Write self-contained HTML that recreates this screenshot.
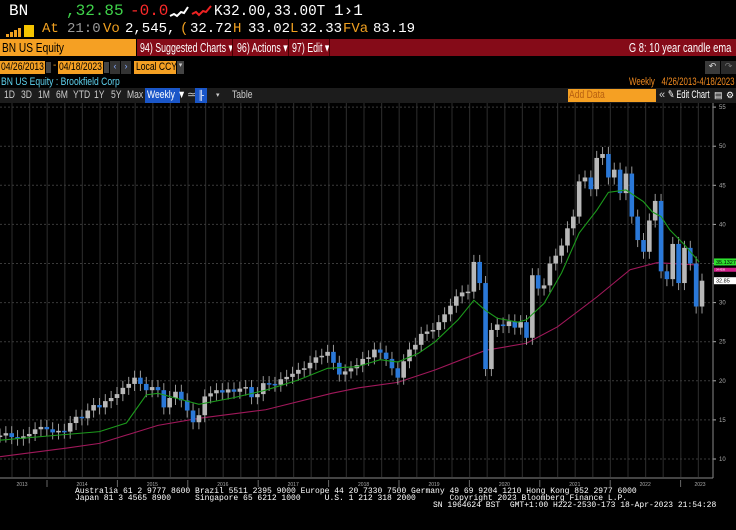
<!DOCTYPE html>
<html><head><meta charset="utf-8"><style>
*{margin:0;padding:0;box-sizing:border-box}
body{width:736px;height:530px;background:#000;overflow:hidden;font-family:"Liberation Sans",sans-serif;position:relative}
.a{position:absolute;white-space:nowrap}
.m{font-family:"Liberation Mono",monospace}
.n{transform:scaleX(.78);transform-origin:left center;display:inline-block}
.k{transform:scaleX(.68);transform-origin:left center;display:inline-block}
.r{transform:scaleX(.72);transform-origin:right center;display:inline-block}
</style></head><body>
<div class="a m" style="left:9px;top:2px;font-size:16px;color:#fff">BN</div>
<div class="a m" style="left:66px;top:2px;font-size:16px;color:#3fd24a">,32.85</div>
<div class="a m" style="left:130px;top:2px;font-size:16px;color:#ff2a2a">-0.0</div>
<svg class="a" style="left:168px;top:4px" width="44" height="16"><polyline points="2,12 6,10 9,12 13,8 16,9 20,3" stroke="#fff" stroke-width="2" fill="none"/><polyline points="24,10 28,8 31,11 35,7 38,8 43,2" stroke="#e22" stroke-width="2" fill="none"/></svg>
<div class="a m" style="left:214px;top:3px;font-size:15px;color:#fff;transform:scaleX(.95);transform-origin:left">K32.00,33.00T</div>
<div class="a m" style="left:334px;top:2px;font-size:16px;color:#fff">1›1</div>
<svg class="a" style="left:6px;top:25px" width="28" height="12"><rect x="0" y="9" width="3" height="3" fill="#f0a020"/><rect x="4" y="7" width="3" height="5" fill="#f0a020"/><rect x="8" y="5" width="3" height="7" fill="#f0a020"/><rect x="12" y="3" width="3" height="9" fill="#f0a020"/><rect x="18" y="0" width="10" height="12" fill="#f5c400"/></svg>
<div class="a m" style="left:0;top:21px;font-size:14px;color:#fff;width:420px;height:17px">
<span class="a" style="left:42px;color:#f0a020">At</span><span class="a" style="left:67px;color:#999">21:0</span><span class="a" style="left:103px;color:#f0a020">Vo</span><span class="a" style="left:125px">2,545,</span><span class="a" style="left:180px;color:#f0a020">(</span><span class="a" style="left:190px">32.72</span><span class="a" style="left:233px;color:#f0a020">H</span><span class="a" style="left:248px">33.02</span><span class="a" style="left:290px;color:#f0a020">L</span><span class="a" style="left:300px">32.33</span><span class="a" style="left:343px;color:#f0a020">FVa</span><span class="a" style="left:373px">83.19</span></div>
<div class="a" style="left:0;top:39px;width:136px;height:17px;background:#f5a023;color:#000;font-size:13px;padding:1px 2px"><span class="n">BN US Equity</span></div>
<div class="a" style="left:137px;top:39px;width:599px;height:17px;background:#850b18;color:#fff;font-size:13px">
<span class="a" style="left:3px;top:1px"><span class="k">94) Suggested Charts ▾</span></span>
<span class="a" style="left:95px;top:0;width:1px;height:17px;background:#400"></span>
<span class="a" style="left:100px;top:1px"><span class="k">96) Actions ▾</span></span>
<span class="a" style="left:151px;top:0;width:1px;height:17px;background:#400"></span>
<span class="a" style="left:155px;top:1px"><span class="k">97) Edit ▾</span></span>
<span class="a" style="left:192px;top:0;width:1px;height:17px;background:#400"></span>
<span class="a" style="right:5px;top:1px"><span class="r">G 8: 10 year candle ema</span></span></div>
<div class="a" style="left:0;top:61px;width:45px;height:13px;background:#f5a023;color:#000;font-size:11px;padding:0 1px;line-height:13px"><span class="n">04/26/2013</span></div>
<div class="a" style="left:46px;top:62px;width:5px;height:11px;background:#444"></div>
<div class="a" style="left:53px;top:60px;color:#f5a023;font-size:10px">-</div>
<div class="a" style="left:58px;top:61px;width:45px;height:13px;background:#f5a023;color:#000;font-size:11px;padding:0 1px;line-height:13px"><span class="n">04/18/2023</span></div>
<div class="a" style="left:104px;top:62px;width:5px;height:11px;background:#444"></div>
<div class="a" style="left:110px;top:61px;width:10px;height:13px;background:#333;color:#8af;font-size:9px;text-align:center">‹</div>
<div class="a" style="left:121px;top:61px;width:10px;height:13px;background:#333;color:#8af;font-size:9px;text-align:center">›</div>
<div class="a" style="left:134px;top:61px;width:42px;height:13px;background:#f5a023;color:#000;font-size:11px;padding:0 2px;line-height:13px"><span class="n">Local CCY</span></div>
<div class="a" style="left:177px;top:61px;width:7px;height:13px;background:#444;color:#ccc;font-size:7px;text-align:center">▾</div>
<div class="a" style="left:705px;top:61px;width:15px;height:13px;background:#3a3a3a;color:#ddd;font-size:9px;text-align:center">↶</div>
<div class="a" style="left:721px;top:61px;width:15px;height:13px;background:#2a2a2a;color:#777;font-size:9px;text-align:center">↷</div>
<div class="a" style="left:1px;top:76px;font-size:11px;color:#5fd3f0"><span class="n">BN US Equity : Brookfield Corp</span></div>
<div class="a" style="right:1px;top:76px;font-size:11px;color:#f08a20"><span class="r">Weekly &nbsp; 4/26/2013-4/18/2023</span></div>
<div class="a" style="left:0;top:88px;width:736px;height:15px;background:#1c1c1c;font-size:11px;color:#ccc;line-height:15px">
<span class="a" style="left:4px"><span class="n">1D</span></span><span class="a" style="left:21px"><span class="n">3D</span></span><span class="a" style="left:38px"><span class="n">1M</span></span><span class="a" style="left:56px"><span class="n">6M</span></span><span class="a" style="left:73px"><span class="n">YTD</span></span><span class="a" style="left:94px"><span class="n">1Y</span></span><span class="a" style="left:111px"><span class="n">5Y</span></span><span class="a" style="left:127px"><span class="n">Max</span></span>
<span class="a" style="left:145px;width:35px;background:#1a56c8;color:#fff;padding-left:2px"><span class="n">Weekly ▼</span></span>
<span class="a" style="left:187px">≃</span><span class="a" style="left:195px;width:12px;background:#1a56c8;color:#fff;text-align:center;font-size:9px">╟</span><span class="a" style="left:216px;font-size:7px">▾</span>
<span class="a" style="left:232px"><span class="n">Table</span></span>
<span class="a" style="left:568px;top:1px;width:88px;height:13px;background:#f5a023;color:#b86010;line-height:13px;padding-left:1px"><span class="n">Add Data</span></span>
<span class="a" style="left:659px;color:#ccc">«</span>
<span class="a" style="left:668px;color:#fff"><span class="k">✎ Edit Chart</span></span>
<span class="a" style="left:714px;color:#fff;font-size:9px">▤</span><span class="a" style="left:726px;color:#fff;font-size:9px">⚙</span></div>
<svg id="chart" class="a" style="left:0;top:103px" width="736" height="385"></svg>
<div class="a m" style="left:75px;top:488px;font-size:8px;line-height:7px;color:#fff">Australia 61 2 9777 8600 Brazil 5511 2395 9000 Europe 44 20 7330 7500 Germany 49 69 9204 1210 Hong Kong 852 2977 6000<br>Japan 81 3 4565 8900 &nbsp; &nbsp; Singapore 65 6212 1000 &nbsp; &nbsp; U.S. 1 212 318 2000 &nbsp; &nbsp; &nbsp; Copyright 2023 Bloomberg Finance L.P.<br><span style="padding-left:358px">SN 1964624 BST &nbsp;GMT+1:00 H222-2530-173 18-Apr-2023 21:54:28</span></div>
<script>
const closes=[13.0,13.3,12.8,12.6,12.9,13.2,13.8,14.1,13.8,13.4,13.6,13.5,14.6,15.4,15.2,16.2,16.9,16.6,17.4,17.8,18.3,19.1,19.6,20.4,19.6,18.8,19.2,18.8,16.6,17.8,18.6,17.5,16.2,14.7,15.6,18.0,18.4,18.8,18.5,18.9,18.6,19.0,19.2,17.9,18.3,19.7,19.6,19.5,20.2,20.5,20.9,21.4,21.6,22.3,23.0,23.2,23.7,22.3,20.8,21.2,21.6,22.0,22.8,23.0,24.0,23.6,22.8,21.6,20.4,22.5,24.0,24.6,26.0,26.3,26.5,27.5,28.5,29.6,30.8,31.3,31.4,35.2,32.5,21.5,26.5,27.2,27.0,27.6,26.8,27.5,25.5,33.5,31.8,32.2,35.0,36.0,37.3,39.5,41.0,45.5,46.0,44.5,48.5,49.0,46.0,47.0,44.0,46.5,41.0,38.0,36.5,40.5,43.0,34.0,33.0,37.5,32.5,37.0,35.0,29.5,32.8];
const greenMonths=[0,10.7,17,21.6,25,27,31.5,34,39.7,45.4,51,56,61,65,68,71.5,74.4,78.3,81,83,85,88.5,90,93,96,99,102,104,107,110,111.5,113,114.5,117,119.5];
const greenEma=[12.4,13.1,13.5,14.6,18.2,18.4,17.5,17.0,17.8,18.8,20.1,21.6,21.8,22.7,22.4,23.5,25.0,27.8,30.3,29.0,28.0,27.5,27.8,29.9,33.8,38.9,41.8,44.1,44.4,42.9,41.6,41.0,39.3,37.4,35.2];
const purpleMonths=[0,11.4,17,27,34,45.4,56.7,61.3,68,74.4,83,90,95.3,102,107.7,112.3,119.5];
const purpleEma=[10.3,11.4,12.0,14.3,15.2,16.3,18.4,19.1,19.8,21.4,23.9,24.8,26.9,30.7,34.2,35.1,34.8];
const yTicks=[10,15,20,25,30,35,40,45,50,55];
const yearLabels=["2013","2014","2015","2016","2017","2018","2019","2020","2021","2022","2023"];
const NS="http://www.w3.org/2000/svg",svg=document.getElementById('chart');
const x=m=>m*5.85;
const y=v=>356-(v-10)*7.82;
const yr=i=>47+(i-1)*70.4;
function mk(t,a){const e=document.createElementNS(NS,t);for(const k in a)e.setAttribute(k,a[k]);svg.appendChild(e);return e;}
for(let gx=12;gx<713;gx+=17.6){const g=mk('line',{x1:gx,x2:gx,y1:0,y2:374,stroke:'#262626','stroke-width':1.2});}
yTicks.forEach(t=>{const g=mk('line',{x1:0,x2:713,y1:y(t),y2:y(t),stroke:'#3a3a3a','stroke-dasharray':'2,2'});
const tk=mk('line',{x1:713,x2:716,y1:y(t),y2:y(t),stroke:'#aaa'});
const l=mk('text',{x:719,y:y(t)+2,fill:'#aaa','font-size':6,'font-family':'Liberation Sans'});l.textContent=t;});
const ax=mk('line',{x1:713,x2:713,y1:0,y2:375,stroke:'#888'});
const bx=mk('line',{x1:0,x2:713,y1:375,y2:375,stroke:'#888'});
yearLabels.forEach((s,i)=>{const cx=i==0?22:Math.min(yr(i)+35,700);
const l=mk('text',{x:cx,y:383,fill:'#aaa','font-size':5,'text-anchor':'middle','font-family':'Liberation Sans'});l.textContent=s;
if(i>0){const t=mk('line',{x1:yr(i),x2:yr(i),y1:377,y2:384,stroke:'#666'});}});
function line(ms,vs,c,n){const p=mk('polyline',{points:ms.map((m,i)=>x(m)+','+y(vs[i])).join(' '),stroke:c,'stroke-width':1.1,fill:'none'});}
line(purpleMonths,purpleEma,'#a0185a','ema-long-line');
closes.forEach((c,i)=>{const o=i?closes[i-1]:c;const hi=Math.max(o,c)+0.9,lo=Math.min(o,c)-0.9;const col=c>=o?'#b8b8b8':'#2a78d8';
const w=mk('line',{x1:x(i),x2:x(i),y1:y(hi),y2:y(lo),stroke:'#999','stroke-width':1});
const r=mk('rect',{x:x(i)-2.3,y:y(Math.max(o,c)),width:4.6,height:Math.max(1.5,Math.abs(y(o)-y(c))),fill:col});});
line(greenMonths,greenEma,'#1c9a1c','ema-short-line');
function tag(v,bg,fg,txt,n,h){const r=mk('rect',{x:714,y:y(v)-h/2,width:22,height:h,fill:bg});
const t=mk('text',{x:716,y:y(v)+h/2-1.5,fill:fg,'font-size':h-1.5,'font-family':'Liberation Sans'});t.textContent=txt;}
tag(greenEma[greenEma.length-1],'#2ee02e','#000','35.1327','ema-short-tag',7);
tag(purpleEma[purpleEma.length-1]-0.6,'#d0208a','#fff','34.4538','ema-long-tag',4);
tag(closes[closes.length-1],'#fff','#000','32.85','last-price-tag',7);
</script>
</body></html>
